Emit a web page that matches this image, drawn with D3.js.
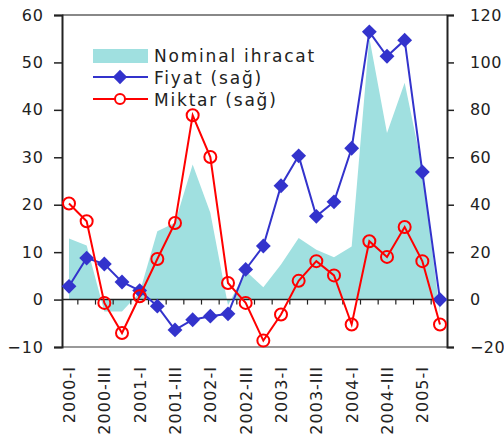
<!DOCTYPE html>
<html>
<head>
<meta charset="utf-8">
<script src="https://cdn.jsdelivr.net/npm/d3@7"></script>
<style>
  body { margin: 0; background: #fff; }
  svg text { font-family: "DejaVu Sans", sans-serif; fill: #222; }
</style>
</head>
<body>
<div id="chart"></div>
<script>
// Quarters 2000-I .. 2005-II
const quarters = ["2000-I","2000-II","2000-III","2000-IV","2001-I","2001-II","2001-III","2001-IV",
  "2002-I","2002-II","2002-III","2002-IV","2003-I","2003-II","2003-III","2003-IV",
  "2004-I","2004-II","2004-III","2004-IV","2005-I","2005-II"];

// Nominal ihracat (left axis)
const nominal = [12.9, 11.4, -2.5, -2.5, 1.5, 14.4, 16.2, 28.5, 18.3, -1.2, 6, 2.6,
  7.4, 13, 10.5, 8.9, 11.2, 55.2, 35.1, 45.7, 27.7, -3];
// Fiyat (right axis)
const fiyat = [5.6, 17.5, 15, 7.4, 3.8, -2.8, -12.8, -8.5, -7, -6, 12.7, 22.6,
  48, 60.6, 35.1, 41.2, 63.8, 112.9, 102.6, 109.4, 53.8, 0];
// Miktar (right axis)
const miktar = [40.5, 33, -1.4, -14.1, 1.4, 17.1, 32.3, 77.7, 60.1, 7, -1.4, -17.3,
  -6.3, 7.9, 16.2, 10.2, -10.5, 24.6, 18, 30.6, 16.2, -10.5];

const leftTicks = [-10, 0, 10, 20, 30, 40, 50, 60];
const rightTicks = [-20, 0, 20, 40, 60, 80, 100, 120];
const seriesNames = ["Nominal ihracat", "Fiyat (sağ)", "Miktar (sağ)"];

const w = 504, h = 441;
const pl = 62, pr = 447, pt = 15, pb = 347;
const areaColor = "#a0e0e0", blue = "#3333cc", red = "#ff0000";

const svg = d3.select("#chart").append("svg")
  .attr("width", w).attr("height", h);

// Scales
const x = d3.scalePoint().domain(quarters).range([69, 440]);
const yL = d3.scaleLinear().domain([-10, 60]).range([pb, pt]);
const yR = d3.scaleLinear().domain([-20, 120]).range([pb, pt]);

// Plot frame (top / bottom gray)
svg.append("line").attr("x1", pl).attr("x2", pr).attr("y1", pt).attr("y2", pt)
  .attr("stroke", "#888").attr("stroke-width", 2);
svg.append("line").attr("x1", pl).attr("x2", pr).attr("y1", pb).attr("y2", pb)
  .attr("stroke", "#999").attr("stroke-width", 2);

// Area
const area = d3.area()
  .x((d, i) => x(quarters[i]))
  .y0(yL(0))
  .y1(d => yL(d));
svg.append("path").datum(nominal)
  .attr("d", area).attr("fill", areaColor);

// Zero line with category ticks
svg.append("line").attr("x1", pl).attr("x2", pr).attr("y1", yL(0)).attr("y2", yL(0))
  .attr("stroke", "#222").attr("stroke-width", 1.5);
const step = x.step();
svg.selectAll(".xtick").data(quarters.slice(1)).enter().append("line")
  .attr("x1", d => x(d) - step / 2).attr("x2", d => x(d) - step / 2)
  .attr("y1", yL(0)).attr("y2", yL(0) + 5)
  .attr("stroke", "#222").attr("stroke-width", 1.2);

// Left axis
const yAxisL = d3.axisLeft(yL).tickValues(leftTicks).tickSize(8).tickPadding(10);
const gL = svg.append("g").attr("transform", "translate(" + pl + ",0)").call(yAxisL);
// Right axis
const yAxisR = d3.axisRight(yR).tickValues(rightTicks).tickSize(7).tickPadding(16);
const gR = svg.append("g").attr("transform", "translate(" + pr + ",0)").call(yAxisR);

[gL, gR].forEach(g => {
  g.select(".domain").attr("stroke", "#222").attr("stroke-width", 2);
  g.selectAll(".tick line").attr("stroke", "#222").attr("stroke-width", 1.5);
  g.selectAll(".tick text").attr("font-size", 16)
    .style("font-family", "DejaVu Sans").attr("fill", "#222");
});
gL.selectAll(".tick text").attr("letter-spacing", 1);
gR.selectAll(".tick text").attr("letter-spacing", 0.4);

// X labels, every second quarter
svg.selectAll(".xlab").data(quarters.filter((d, i) => i % 2 === 0)).enter().append("text")
  .attr("transform", d => "translate(" + (x(d) + 6) + ",366) rotate(-90)")
  .attr("text-anchor", "end")
  .attr("font-size", 16)
  .attr("letter-spacing", 1)
  .text(d => d);

// Lines
const lineR = d3.line().x((d, i) => x(quarters[i])).y(d => yR(d));

svg.append("path").datum(fiyat)
  .attr("d", lineR).attr("fill", "none").attr("stroke", blue).attr("stroke-width", 2);
svg.selectAll(".diamond").data(fiyat).enter().append("path")
  .attr("d", d3.symbol(d3.symbolDiamond2, 140))
  .attr("transform", (d, i) => "translate(" + x(quarters[i]) + "," + yR(d) + ")")
  .attr("fill", blue);

svg.append("path").datum(miktar)
  .attr("d", lineR).attr("fill", "none").attr("stroke", red).attr("stroke-width", 2);
svg.selectAll(".circ").data(miktar).enter().append("circle")
  .attr("cx", (d, i) => x(quarters[i])).attr("cy", d => yR(d))
  .attr("r", 6).attr("fill", "none").attr("stroke", red).attr("stroke-width", 2);

// Legend
const lg = svg.append("g");
lg.append("rect").attr("x", 93).attr("y", 49).attr("width", 55).attr("height", 14)
  .attr("fill", areaColor);
lg.append("line").attr("x1", 93).attr("x2", 148).attr("y1", 77).attr("y2", 77)
  .attr("stroke", blue).attr("stroke-width", 2);
lg.append("path").attr("d", d3.symbol(d3.symbolDiamond2, 130))
  .attr("transform", "translate(120,77)").attr("fill", blue);
lg.append("line").attr("x1", 93).attr("x2", 148).attr("y1", 99).attr("y2", 99)
  .attr("stroke", red).attr("stroke-width", 2);
lg.append("circle").attr("cx", 120).attr("cy", 99).attr("r", 5)
  .attr("fill", "#fff").attr("stroke", red).attr("stroke-width", 2);
lg.selectAll("text").data(seriesNames).enter().append("text")
  .attr("x", 154).attr("y", (d, i) => 62 + i * 22)
  .attr("font-size", 17).attr("letter-spacing", 1.8)
  .text(d => d);
</script>
</body>
</html>
